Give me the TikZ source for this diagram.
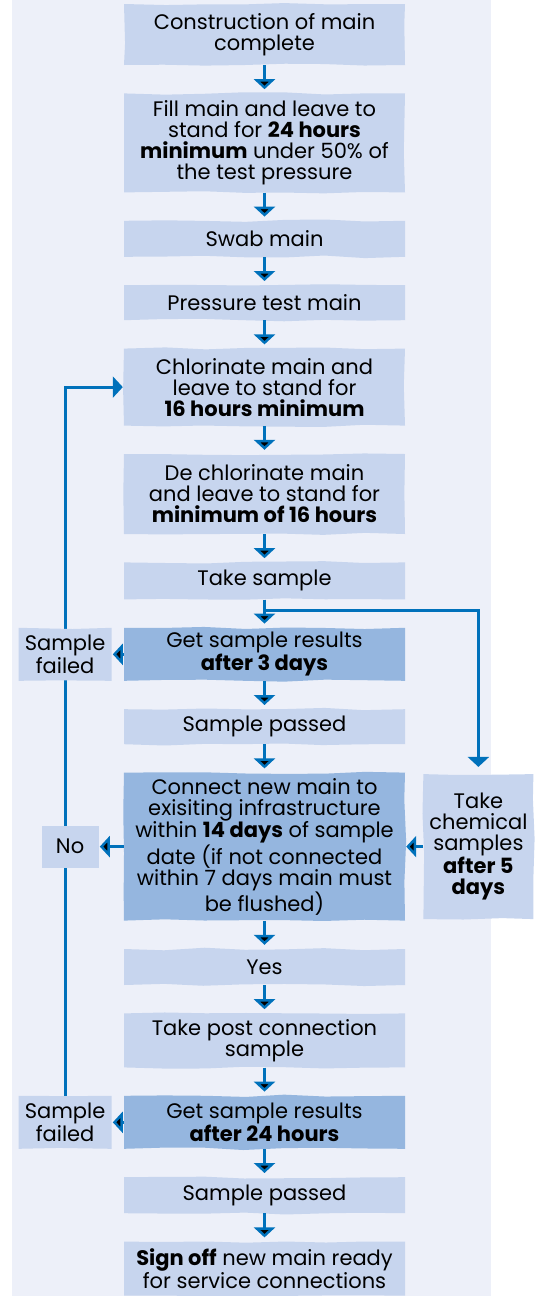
\documentclass[tikz,border=0pt]{standalone}
\usepackage{fontspec}
\setmainfont{Poppins}
\usepackage{tikz}
\usetikzlibrary{ arrows.meta, backgrounds, decorations.pathmorphing, positioning }
\definecolor{panelbg}{HTML}{EDF0F9}
\definecolor{steplight}{HTML}{C7D5EE}
\definecolor{stepdark}{HTML}{95B6DF}
\definecolor{flowblue}{HTML}{0071BB}
\tikzset{
>={Triangle[width=21pt,length=10pt]}, % broad flat arrow heads
node distance=28pt, % gap between two steps
every node/.style={inner sep=0pt, align=center, font=\fontsize{21}{21}\selectfont},
ragged/.style={decorate, decoration={random steps, segment length=40pt, amplitude=1.3pt}}, % torn paper edges
stepbox/.style={ragged, fill=steplight, minimum width=281pt},
resultbox/.style={stepbox, fill=stepdark},
sidebox/.style={ragged, fill=steplight},
flow/.style={draw=flowblue, line width=3pt},
}

\begin{document}
\begin{tikzpicture}[x=1pt, y=-1pt]
  \pgfmathsetseed{7}
  \useasboundingbox (0,0) rectangle (539,1296);
  \begin{scope}[on background layer]
    \fill[panelbg] (12,0) rectangle (491,1296);
  \end{scope}

  % main column
  \node[stepbox, minimum height=61pt] (build) at (264.5,34.5) {Construction of main\\complete};
  \node[stepbox, minimum height=99pt, below=of build] (fill) {Fill main and leave to\\stand for \textbf{24 hours}\\\textbf{minimum} under 50\% of\\the test pressure};
  \node[stepbox, minimum height=36pt, below=of fill] (swab) {Swab main};
  \node[stepbox, minimum height=35pt, below=of swab] (ptest) {Pressure test main};
  \node[stepbox, minimum height=77pt, below=of ptest] (chlor) {Chlorinate main and\\leave to stand for\\\textbf{16 hours minimum}};
  \node[stepbox, minimum height=80pt, below=of chlor] (dechlor) {De chlorinate main\\and leave to stand for\\\textbf{minimum of 16 hours}};
  \node[stepbox, minimum height=37pt, below=of dechlor] (take) {Take sample};
  \node[resultbox, minimum height=53pt, below=of take] (res1) {Get sample results\\\textbf{after 3 days}};
  \node[stepbox, minimum height=35pt, below=of res1] (pass1) {Sample passed};
  \node[resultbox, minimum height=148pt, below=of pass1] (connect) {Connect new main to\\exisiting infrastructure\\within \textbf{14 days} of sample\\date (if not connected\\within 7 days main must\\be flushed)};
  \node[stepbox, minimum height=36pt, below=of connect] (yes) {Yes};
  \node[stepbox, minimum height=54pt, below=of yes] (post) {Take post connection\\sample};
  \node[resultbox, minimum height=53pt, below=of post] (res2) {Get sample results\\\textbf{after 24 hours}};
  \node[stepbox, minimum height=36pt, below=of res2] (pass2) {Sample passed};
  \node[stepbox, minimum height=54pt, below=of pass2] (signoff) {\textbf{Sign off} new main ready\\for service connections};

  % side boxes
  \node[sidebox, minimum width=93pt, minimum height=53pt, left=12pt of res1] (fail1) {Sample\\failed};
  \node[sidebox, minimum width=57pt, minimum height=42pt, left=25pt of connect] (no) {No};
  \node[sidebox, minimum width=110pt, minimum height=145pt, right=18pt of connect] (chem) {Take\\chemical\\samples\\\textbf{after 5}\\\textbf{days}};
  \node[sidebox, minimum width=93pt, minimum height=53pt, left=12pt of res2] (fail2) {Sample\\failed};

  \path[flow, ->, shorten >=4pt]
  (build) edge (fill)
  (fill) edge (swab)
  (swab) edge (ptest)
  (ptest) edge (chlor)
  (chlor) edge (dechlor)
  (dechlor) edge (take)
  (take) edge (res1)
  (res1) edge (pass1)
  (pass1) edge (connect)
  (connect) edge (yes)
  (yes) edge (post)
  (post) edge (res2)
  (res2) edge (pass2)
  (pass2) edge (signoff);

  \path[flow, ->, shorten >=1pt]
  (res1) edge (fail1)
  (connect) edge (no)
  (chem) edge (connect)
  (res2) edge (fail2);

  \draw[flow, ->, shorten >=7pt] (take.south) -- ++(0,11) -| (chem.north);

  % failed samples go back to chlorination
  \begin{scope}[on background layer]
    \draw[flow, ->, shorten >=1pt] (fail2.north) -- (fail2.north |- chlor.west) -- (chlor.west);
  \end{scope}
\end{tikzpicture}
\end{document}
